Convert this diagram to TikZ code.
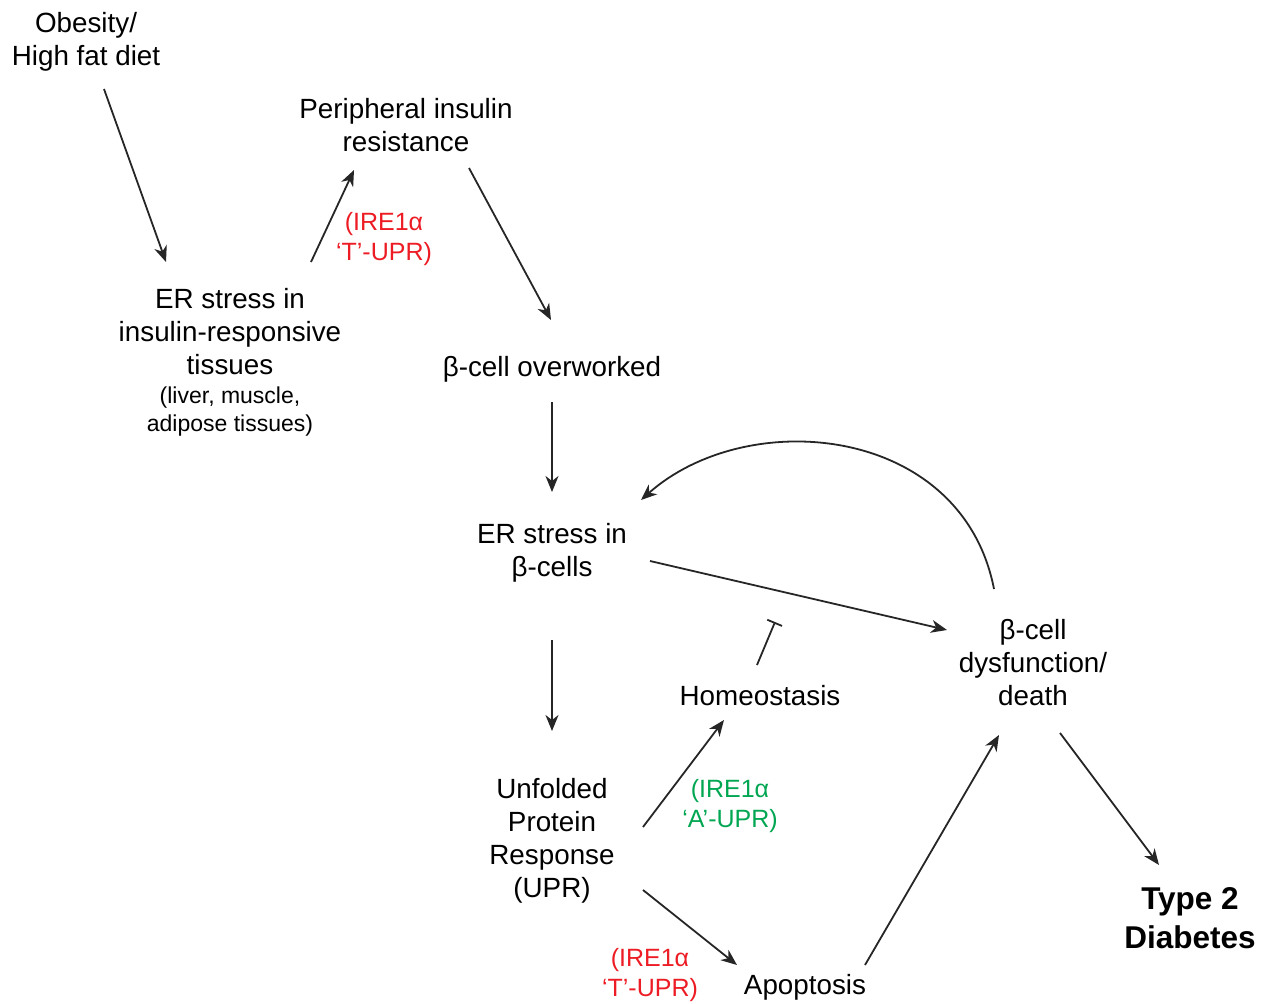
\documentclass[tikz,border=0pt]{standalone}
\usepackage{fontspec}
\setmainfont{Liberation Sans}
\usetikzlibrary{arrows.meta}
\definecolor{ured}{RGB}{237,28,36}
\definecolor{ugreen}{RGB}{0,166,81}
\begin{document}
\begin{tikzpicture}[x=1pt,y=-1pt,
  main/.style={align=center,inner sep=0pt,font=\fontsize{27.8}{33}\selectfont},
  small/.style={align=center,inner sep=0pt,font=\fontsize{23}{28}\selectfont},
  lab/.style={align=center,inner sep=0pt,font=\fontsize{25}{30}\selectfont},
  bold/.style={align=center,inner sep=0pt,font=\fontsize{31.5}{39}\selectfont\bfseries},
  arr/.style={line width=1.8pt,draw=black!85,-{Stealth[length=16pt,width=13pt,inset=5pt]}},
  inh/.style={line width=1.8pt,draw=black!85,-{Bar[width=16pt,line width=1.8pt]}}]
\useasboundingbox (0,0) rectangle (1270,1004);
\node[main] (obes) at (86,42) {Obesity/\\High fat diet};
\node[main] (per) at (406,125) {Peripheral insulin\\resistance};
\node[main] (tis) at (230,332) {ER stress in\\insulin-responsive\\tissues};
\node[small] (tis2) at (230,412) {(liver, muscle,\\adipose tissues)};
\node[lab,text=ured] (lab1) at (384,239) {(IRE1α\\‘T’-UPR)};
\node[main] (over) at (552,369) {β-cell overworked};
\node[main] (erb) at (552,553) {ER stress in\\β-cells};
\node[main] (upr) at (552,841) {Unfolded\\Protein\\Response\\(UPR)};
\node[main] (homeo) at (760,696) {Homeostasis};
\node[main] (dys) at (1033,663) {β-cell\\dysfunction/\\death};
\node[bold] (t2d) at (1190,918) {Type 2\\Diabetes};
\node[main] (apop) at (805,987) {Apoptosis};
\node[lab,text=ugreen] (lab2) at (730,806) {(IRE1α\\‘A’-UPR)};
\node[lab,text=ured] (lab3) at (650,975) {(IRE1α\\‘T’-UPR)};

\draw[arr] ([shift={(18,47)}]obes.center) -- ([shift={(-64,-70)}]tis.center);
\draw[arr] ([shift={(81,-70)}]tis.center) -- ([shift={(-52,45)}]per.center);
\draw[arr] ([shift={(63,43)}]per.center) -- ([shift={(-1,-49)}]over.center);
\draw[arr] ([shift={(0,33)}]over.center) -- ([shift={(0,-61)}]erb.center);
\draw[arr] ([shift={(0,87)}]erb.center) -- ([shift={(0,-110)}]upr.center);
\draw[arr] ([shift={(98,8)}]erb.center) -- ([shift={(-86,-33)}]dys.center);
\draw[arr] ([shift={(-39,-74)}]dys.center) .. controls (962,425) and (748,405) .. ([shift={(89,-53)}]erb.center);
\draw[inh] ([shift={(-3,-31)}]homeo.center) -- ([shift={(15,-74)}]homeo.center);
\draw[arr] ([shift={(91,-14)}]upr.center) -- ([shift={(-36,24)}]homeo.center);
\draw[arr] ([shift={(91,49)}]upr.center) -- ([shift={(-68,-22)}]apop.center);
\draw[arr] ([shift={(60,-22)}]apop.center) -- ([shift={(-34,72)}]dys.center);
\draw[arr] ([shift={(27,70)}]dys.center) -- ([shift={(-31,-53)}]t2d.center);
\end{tikzpicture}
\end{document}
